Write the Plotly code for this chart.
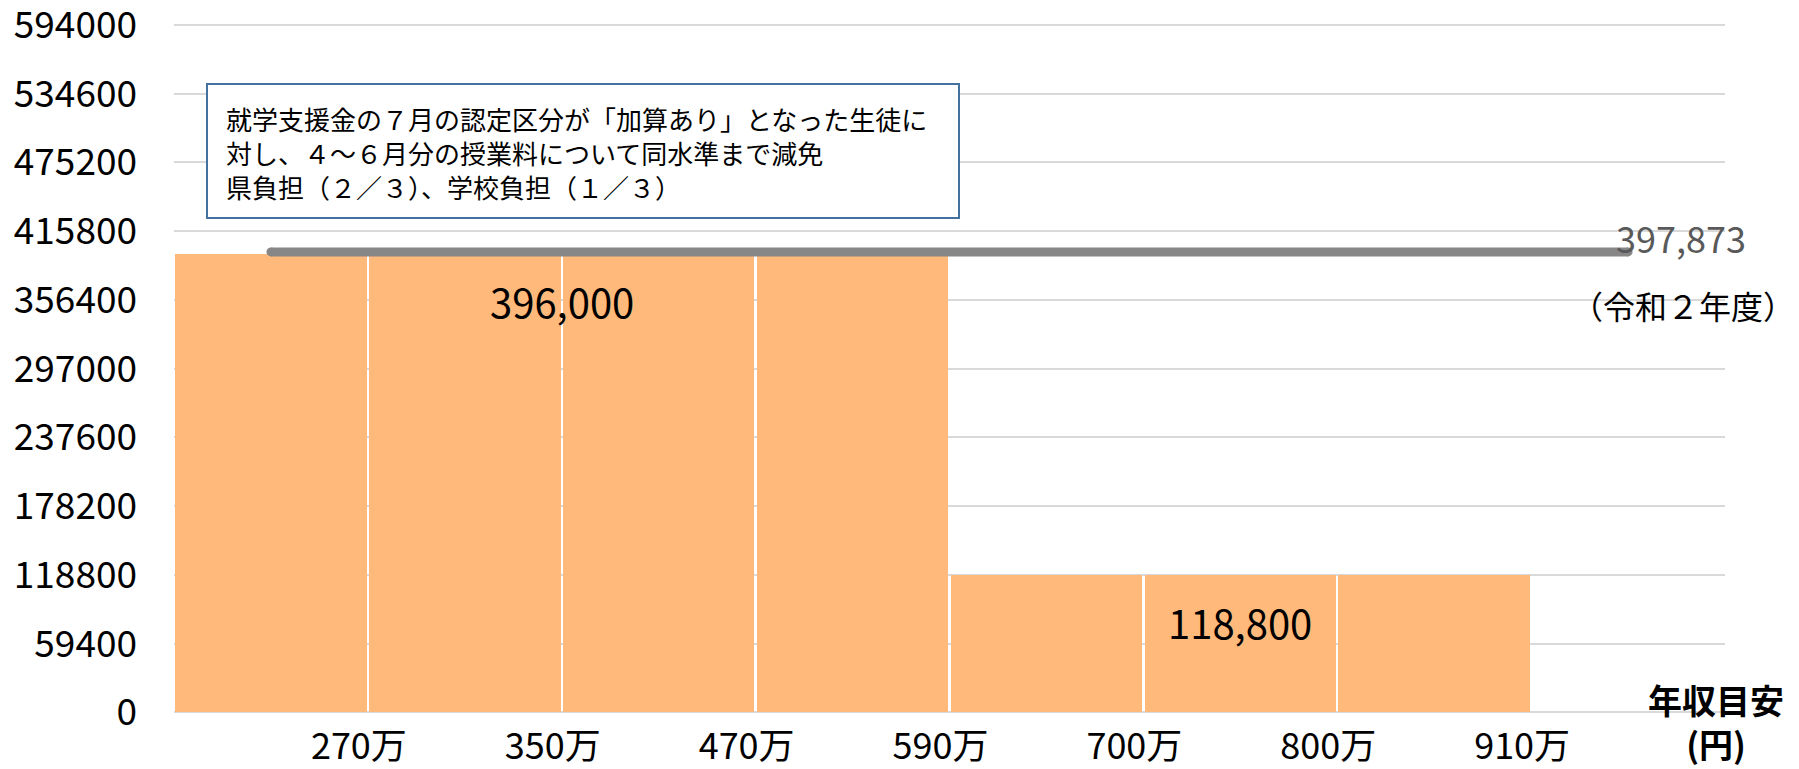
import plotly.graph_objects as go

# Income brackets (upper bound of each bracket, shown at bracket boundaries)
income_labels = ["270万", "350万", "470万", "590万", "700万", "800万", "910万"]
# Tuition support amount per bracket (円)
support_amounts = [396000, 396000, 396000, 396000, 118800, 118800, 118800]
# Average tuition (令和2年度)
avg_tuition = 397873
avg_tuition_note = "（令和２年度）"

y_max = 594000
y_step = 59400

note_lines = [
    "就学支援金の７月の認定区分が「加算あり」となった生徒に",
    "対し、４～６月分の授業料について同水準まで減免",
    "県負担（２／３）、学校負担（１／３）",
]

FONT = "Noto Sans CJK JP"
BAR_COLOR = "#FFB97A"
LINE_COLOR = "#878787"

W, H = 1799, 769
M_L, M_R, M_T, M_B = 174, 74, 18, 52


def px_to_paper_x(px):
    return (px - M_L) / (W - M_L - M_R)


def px_to_paper_y(py):
    return (H - M_B - py) / (H - M_T - M_B)


n = len(support_amounts)
bar_x = [i + 0.5 for i in range(n)]
boundaries = [i + 1 for i in range(n)]
y_ticks = [i * y_step for i in range(round(y_max / y_step) + 1)]

fig = go.Figure()

fig.add_trace(go.Bar(
    x=bar_x,
    y=support_amounts,
    width=0.988,
    marker=dict(color=BAR_COLOR, line=dict(width=0)),
    hoverinfo="skip",
    showlegend=False,
))

# Average tuition line, from the first bracket centre to one slot past the last
line_x = [bar_x[0], n + 0.5]
fig.add_trace(go.Scatter(
    x=line_x,
    y=[avg_tuition, avg_tuition],
    mode="lines+markers",
    line=dict(color=LINE_COLOR, width=9),
    marker=dict(color=LINE_COLOR, size=9, line=dict(width=0)),
    hoverinfo="skip",
    showlegend=False,
))

annotations = []

# Group value labels: centred over each run of equal support amounts
groups = []
start = 0
for i in range(1, n + 1):
    if i == n or support_amounts[i] != support_amounts[start]:
        groups.append((start, i))
        start = i
for s, e in groups:
    xs = bar_x[s:e]
    val = support_amounts[s]
    annotations.append(dict(
        x=sum(xs) / len(xs), y=val, xref="x", yref="y",
        xanchor="center", yanchor="middle",
        text=f"{val:,}", showarrow=False, yshift=-47,
        font=dict(family=FONT, size=40, color="#000000"),
    ))

# Average tuition value and year note at the line end
annotations.append(dict(
    x=line_x[-1], y=avg_tuition, xref="x", yref="y",
    xanchor="left", yanchor="middle",
    text=f"{avg_tuition:,}", showarrow=False, xshift=-14, yshift=15,
    font=dict(family=FONT, size=36, color="#595959"),
))
annotations.append(dict(
    x=line_x[-1], y=avg_tuition, xref="x", yref="y",
    xanchor="left", yanchor="middle",
    text=avg_tuition_note, showarrow=False, xshift=-59, yshift=-53,
    font=dict(family=FONT, size=32, color="#000000"),
))

# Explanatory note text (framed by a rectangle shape below)
annotations.append(dict(
    x=px_to_paper_x(224), y=px_to_paper_y(98), xref="paper", yref="paper",
    xanchor="left", yanchor="top",
    text="<br>".join(note_lines), showarrow=False, align="left",
    font=dict(family=FONT, size=26, color="#000000"),
))

# Axis title at the bottom right
annotations.append(dict(
    x=px_to_paper_x(1716), y=px_to_paper_y(721), xref="paper", yref="paper",
    xanchor="center", yanchor="middle",
    text="<b>年収目安</b><br><b>(円)</b>", showarrow=False,
    font=dict(family=FONT, size=34, color="#000000"),
))

# Small padding beyond the first/last tick keeps their gridlines visible
y_pad_top = 6000
y_pad_bottom = 4000

fig.update_layout(
    width=W, height=H,
    margin=dict(l=M_L, r=M_R, t=M_T, b=M_B, autoexpand=False),
    plot_bgcolor="#FFFFFF", paper_bgcolor="#FFFFFF",
    bargap=0,
    annotations=annotations,
    shapes=[dict(
        type="rect", xref="paper", yref="paper",
        x0=px_to_paper_x(207), x1=px_to_paper_x(959),
        y0=px_to_paper_y(218), y1=px_to_paper_y(84),
        line=dict(color="#4472A0", width=2),
        fillcolor="#FFFFFF", layer="above",
    )],
    font=dict(family=FONT, color="#000000"),
)

fig.update_xaxes(
    range=[0, n + 1], automargin=False,
    tickmode="array", tickvals=boundaries, ticktext=income_labels,
    showgrid=False, zeroline=False, showline=False,
    ticks="", ticklabelstandoff=5, ticklabelshift=-9,
    tickfont=dict(family=FONT, size=36, color="#000000"),
    fixedrange=True,
)

fig.update_yaxes(
    range=[-y_pad_bottom, y_max + y_pad_top], automargin=False,
    tickmode="array", tickvals=y_ticks, ticktext=[str(v) for v in y_ticks],
    showgrid=True, gridcolor="#D9D9D9", gridwidth=2,
    zeroline=False, showline=False, ticks="",
    ticklabelstandoff=36, ticklabeloverflow="allow",
    tickfont=dict(family=FONT, size=37, color="#000000"),
    fixedrange=True,
)

fig.write_html("out.html")
